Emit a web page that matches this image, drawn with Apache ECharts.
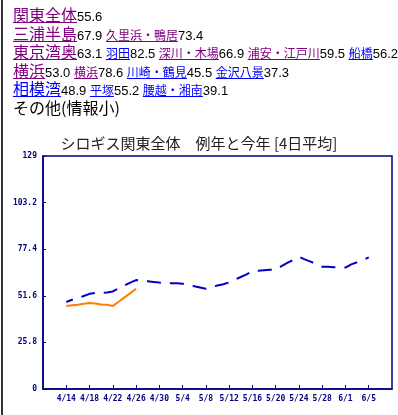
<!DOCTYPE html>
<html>
<head>
<meta charset="utf-8">
<script src="https://cdn.jsdelivr.net/npm/echarts@6/dist/echarts.min.js"></script>
<style>
body{margin:0;background:#fff;}
#main{position:absolute;left:0;top:0;width:398px;height:415px;}
#edge{position:absolute;left:1px;top:0;width:2px;height:415px;background:#333;}
#hdr{position:absolute;left:13px;top:5px;z-index:2;font-family:"Noto Sans CJK JP",sans-serif;}
#hdr .r{height:18.6px;line-height:18.6px;white-space:nowrap;}
#hdr a{text-decoration:underline;}
#hdr .b{font-size:16px;}
#hdr .s{font-size:12px;}
#hdr .p{color:#800080;}
#hdr .u{color:#0000ff;}
#hdr .n{font-family:"Liberation Sans",Arial,sans-serif;font-size:13px;color:#000;}
#hdr .o{font-size:16px;color:#000;}
</style>
</head>
<body>
<div id="edge"></div>
<div id="hdr">
	<div class="r"><a class="b p">関東全体</a><span class="n">55.6</span></div>
	<div class="r"><a class="b p">三浦半島</a><span class="n">67.9</span> <a class="s p">久里浜・鴨居</a><span class="n">73.4</span></div>
	<div class="r"><a class="b p">東京湾奥</a><span class="n">63.1</span> <a class="s u">羽田</a><span class="n">82.5</span> <a class="s p">深川・木場</a><span class="n">66.9</span> <a class="s p">浦安・江戸川</a><span class="n">59.5</span> <a class="s u">船橋</a><span class="n">56.2</span></div>
	<div class="r"><a class="b p">横浜</a><span class="n">53.0</span> <a class="s p">横浜</a><span class="n">78.6</span> <a class="s u">川崎・鶴見</a><span class="n">45.5</span> <a class="s u">金沢八景</a><span class="n">37.3</span></div>
	<div class="r"><a class="b u">相模湾</a><span class="n">48.9</span> <a class="s u">平塚</a><span class="n">55.2</span> <a class="s u">腰越・湘南</a><span class="n">39.1</span></div>
	<div class="r"><span class="o">その他(情報小)</span></div>
</div>
<div id="main"></div>
<script>
// 4/10 ～ 6/9 の日付
var days = ['4/10','4/11','4/12','4/13','4/14','4/15','4/16','4/17','4/18','4/19','4/20',
	'4/21','4/22','4/23','4/24','4/25','4/26','4/27','4/28','4/29','4/30',
	'5/1','5/2','5/3','5/4','5/5','5/6','5/7','5/8','5/9','5/10',
	'5/11','5/12','5/13','5/14','5/15','5/16','5/17','5/18','5/19','5/20',
	'5/21','5/22','5/23','5/24','5/25','5/26','5/27','5/28','5/29','5/30','5/31',
	'6/1','6/2','6/3','6/4','6/5','6/6','6/7','6/8','6/9'];

// 例年 (4/14 ～ 6/5)
var reinen = [48.2,49.4,50.2,51.5,52.7,53.2,53.3,53.4,54.0,55.7,57.3,58.9,60.3,
	60.0,59.7,59.3,58.9,58.7,58.6,58.5,58.3,57.6,56.9,56.2,55.5,
	56.5,57.3,58.0,59.0,60.5,62.0,63.5,65.3,65.5,65.8,66.0,66.1,
	68.0,69.8,71.5,73.2,71.8,70.5,69.2,67.7,67.7,67.4,67.2,67.2,
	69.0,70.2,71.3,72.9];

// 今年 (4/14 ～ 4/26)
var kotoshi = [46.0,46.4,46.7,47.2,47.6,47.3,46.8,46.6,46.0,48.3,50.7,53.1,55.5];

var yLabels = ['0','25.8','51.6','77.4','103.2','129'];

var startIdx = 4;   // 4/14

function pad(arr){
	var out = [];
	for(var i=0;i<days.length;i++){
		var j = i - startIdx;
		out.push(j>=0 && j<arr.length ? arr[j] : null);
	}
	return out;
}

function showTick(idx){
	return idx>=4 && idx<=56 && idx%4===0;
}

var navy = '#000080';
var myChart = echarts.init(document.getElementById('main'));
var option = {
	animation:false,
	title:{
		text:'シロギス関東全体　例年と今年 [4日平均]',
		left:'center',
		top:131,
		textStyle:{fontSize:15,fontWeight:'normal',color:'#222',fontFamily:'Noto Sans CJK JP'}
	},
	grid:{
		left:43, right:6, top:156, bottom:26,
		show:true, borderColor:navy, borderWidth:1.5
	},
	xAxis:{
		type:'category',
		data:days,
		boundaryGap:false,
		axisLine:{lineStyle:{color:navy,width:1.5}},
		axisTick:{inside:true,length:4,interval:showTick,lineStyle:{color:navy}},
		axisLabel:{interval:showTick,color:navy,fontSize:8,fontWeight:'bold',
			fontFamily:'DejaVu Sans Mono',margin:6},
		splitLine:{show:false}
	},
	yAxis:{
		type:'value',
		min:0, max:129, interval:25.8,
		axisLine:{show:true,lineStyle:{color:navy,width:1.5}},
		axisTick:{show:true,inside:true,length:3,lineStyle:{color:navy}},
		axisLabel:{color:navy,fontSize:8,fontWeight:'bold',fontFamily:'DejaVu Sans Mono',margin:6,
			formatter:function(v){ return yLabels[Math.round(v/25.8)]; }},
		splitLine:{show:false}
	},
	series:[
		{
			name:'例年',
			type:'line',
			data:pad(reinen),
			showSymbol:false,
			lineStyle:{color:'#0000c8',width:2,type:[14,9],dashOffset:7}
		},
		{
			name:'今年',
			type:'line',
			data:pad(kotoshi),
			showSymbol:false,
			lineStyle:{color:'#ff8000',width:2}
		}
	]
};
myChart.setOption(option);
</script>
</body>
</html>
